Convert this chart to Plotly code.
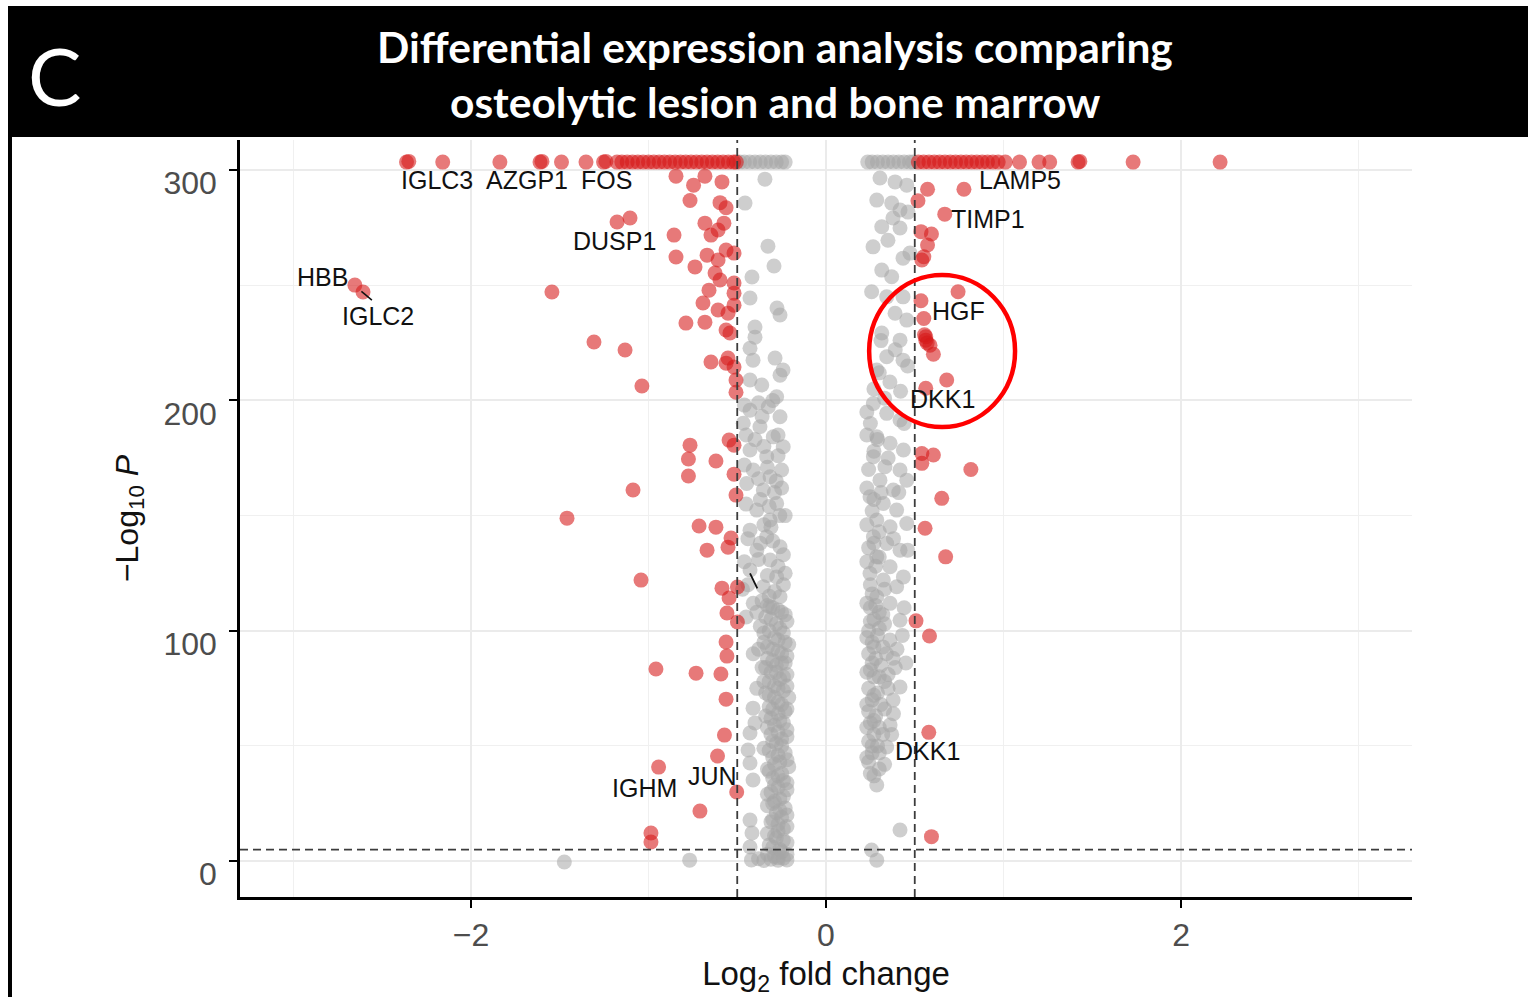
import plotly.graph_objects as go

# ---------------- data (log2 fold change, -log10 P) ----------------
ns_points = [
    # capped at top
    (-0.485, 303.5), (-0.46, 303.5), (-0.43, 303.5), (-0.40, 303.5), (-0.37, 303.5), (-0.34, 303.5),
    (-0.31, 303.5), (-0.28, 303.5), (-0.25, 303.5), (-0.23, 303.5),
    (0.235, 303.5), (0.26, 303.5), (0.29, 303.5), (0.32, 303.5), (0.35, 303.5), (0.38, 303.5),
    (0.41, 303.5), (0.44, 303.5), (0.47, 303.5), (0.49, 303.5),
    # left column, upper part
    (-0.344, 296.1), (-0.456, 285.7), (-0.327, 267.0), (-0.293, 258.4), (-0.417, 253.6), (-0.428, 244.5),
    (-0.276, 240.1), (-0.259, 237.1), (-0.400, 231.9), (-0.400, 227.5), (-0.428, 222.7), (-0.287, 218.4),
    (-0.242, 213.2), (-0.411, 217.5),
    (-0.428, 208.9), (-0.259, 211.0), (-0.362, 206.7), (-0.278, 201.6), (-0.428, 195.8), (-0.325, 197.3),
    (-0.259, 192.9), (-0.466, 190.1), (-0.372, 188.6), (-0.297, 184.2), (-0.241, 179.9), (-0.428, 178.5),
    (-0.334, 175.6), (-0.250, 169.8), (-0.410, 169.8), (-0.315, 166.9), (-0.447, 164.0), (-0.353, 161.1),
    (-0.278, 155.3), (-0.390, 152.4), (-0.315, 148.1), (-0.428, 143.7), (-0.334, 140.8), (-0.259, 136.5),
    (-0.390, 135.0), (-0.315, 130.7), (-0.428, 126.4), (-0.278, 123.4), (-0.353, 119.1), (-0.259, 114.8),
    (-0.410, 111.9), (-0.315, 110.4),
    (-0.30, 200), (-0.36, 193), (-0.27, 185), (-0.40, 183), (-0.33, 171), (-0.29, 160), (-0.37, 157),
    (-0.26, 150), (-0.35, 146), (-0.30, 139), (-0.38, 131), (-0.27, 128), (-0.33, 124), (-0.29, 117),
    (-0.36, 113), (-0.24, 120), (-0.31, 145), (-0.25, 162),
    (-0.46, 198), (-0.38, 199), (-0.45, 185), (-0.35, 180), (-0.27, 176), (-0.46, 172), (-0.38, 166),
    (-0.28, 165), (-0.45, 155), (-0.32, 154), (-0.23, 150), (-0.44, 140), (-0.37, 138), (-0.24, 133),
    (-0.44, 120), (-0.32, 115), (-0.39, 108), (-0.23, 125), (-0.41, 90), (-0.40, 60),
    # left column, dense lower part
    (-0.30, 110), (-0.25, 108), (-0.34, 106), (-0.22, 104), (-0.28, 103), (-0.32, 100), (-0.24, 99),
    (-0.27, 96), (-0.35, 95), (-0.21, 94), (-0.30, 92), (-0.25, 90), (-0.33, 88), (-0.23, 86), (-0.28, 85),
    (-0.31, 82), (-0.22, 81), (-0.26, 79), (-0.35, 78), (-0.29, 76), (-0.24, 74), (-0.32, 72), (-0.21, 71),
    (-0.27, 69), (-0.30, 66), (-0.23, 65), (-0.34, 63), (-0.26, 61), (-0.29, 59), (-0.22, 57), (-0.31, 55),
    (-0.25, 53), (-0.28, 51), (-0.35, 49), (-0.23, 47), (-0.30, 45), (-0.26, 43), (-0.21, 41), (-0.32, 39),
    (-0.27, 37), (-0.24, 35), (-0.29, 33), (-0.22, 31), (-0.33, 29), (-0.26, 27), (-0.30, 25), (-0.23, 23),
    (-0.28, 21), (-0.25, 19), (-0.31, 17), (-0.22, 15), (-0.27, 13), (-0.29, 11), (-0.24, 9), (-0.32, 7),
    (-0.26, 5), (-0.22, 3), (-0.29, 2),
    (-0.33, 111), (-0.27, 109), (-0.23, 107), (-0.31, 105), (-0.26, 101), (-0.35, 99), (-0.29, 97),
    (-0.23, 95), (-0.33, 93), (-0.27, 91), (-0.22, 89), (-0.30, 87), (-0.25, 86), (-0.34, 84), (-0.28, 82),
    (-0.24, 80), (-0.32, 78), (-0.27, 75), (-0.22, 76), (-0.34, 73), (-0.29, 71), (-0.25, 68), (-0.32, 67),
    (-0.22, 66), (-0.27, 64), (-0.31, 62), (-0.24, 60), (-0.33, 58), (-0.27, 56), (-0.22, 54), (-0.30, 52),
    (-0.25, 50), (-0.32, 48), (-0.27, 46), (-0.22, 44), (-0.29, 42), (-0.33, 40), (-0.25, 38), (-0.30, 36),
    (-0.22, 34), (-0.27, 32), (-0.31, 30), (-0.24, 28), (-0.29, 26), (-0.33, 24), (-0.26, 22), (-0.22, 20),
    (-0.30, 18), (-0.27, 16), (-0.24, 14), (-0.33, 12), (-0.28, 10), (-0.22, 8), (-0.30, 6), (-0.25, 4),
    (-0.33, 3), (-0.27, 1.5), (-0.22, 0.5),
    (-0.37, 102), (-0.38, 92), (-0.36, 84), (-0.39, 75), (-0.46, 130), (-0.47, 118), (-0.45, 106),
    (-0.411, 66.4), (-0.428, 55.6), (-0.439, 48.2), (-0.428, 42.6), (-0.411, 35.2), (-0.428, 17.8),
    (-0.417, 12.2), (-0.428, 6.1),
    (-0.42, 0.5), (-0.38, 1.0), (-0.35, 0.3), (-0.31, 0.8), (-0.27, 0.4), (-0.24, 1.2),
    (-1.474, -0.4), (-0.768, 0.4),
    # right column, upper part
    (0.304, 296.6), (0.389, 294.9), (0.455, 293.5), (0.286, 287.0), (0.370, 285.7), (0.417, 282.7),
    (0.462, 281.8), (0.314, 275.4), (0.377, 279.2), (0.417, 274.9), (0.265, 266.7), (0.349, 269.6),
    (0.434, 261.8), (0.473, 264.0), (0.314, 256.6), (0.370, 253.7), (0.257, 247.2), (0.342, 245.0),
    (0.434, 245.0), (0.389, 237.9), (0.455, 234.9), (0.314, 229.3), (0.417, 226.2), (0.342, 219.0),
    (0.434, 217.5), (0.286, 213.2),
    (0.30, 212), (0.36, 208), (0.42, 204), (0.27, 205), (0.33, 201), (0.46, 215), (0.39, 222), (0.31, 226),
    # right column, middle part
    (0.267, 198.7), (0.342, 194.4), (0.417, 191.5), (0.286, 184.2), (0.361, 181.4), (0.436, 178.5),
    (0.267, 175.6), (0.332, 171.2), (0.417, 169.8), (0.304, 165.4), (0.379, 161.1), (0.455, 165.4),
    (0.248, 158.2), (0.323, 155.3), (0.398, 152.4), (0.286, 148.1), (0.361, 145.2), (0.455, 146.6),
    (0.267, 140.8), (0.342, 137.9), (0.417, 135.0), (0.286, 132.1), (0.361, 127.8), (0.248, 124.9),
    (0.323, 122.0), (0.398, 119.1), (0.286, 114.8), (0.361, 111.9), (0.436, 123.4),
    (0.25, 190), (0.29, 183), (0.24, 170), (0.31, 160), (0.26, 152), (0.30, 143), (0.24, 136), (0.28, 128),
    (0.33, 118), (0.25, 120),
    (0.23, 185), (0.27, 178), (0.23, 162), (0.27, 157), (0.23, 146), (0.27, 138), (0.23, 130), (0.30, 132),
    (0.26, 116), (0.38, 140), (0.41, 160), (0.35, 175), (0.44, 190), (0.46, 135), (0.23, 195),
    # right column, lower part
    (0.25, 110), (0.30, 108), (0.27, 105), (0.33, 103), (0.24, 100), (0.29, 98), (0.26, 95), (0.32, 93),
    (0.24, 90), (0.28, 88), (0.31, 85), (0.25, 83), (0.27, 80), (0.33, 78), (0.24, 75), (0.29, 73),
    (0.26, 70), (0.31, 68), (0.24, 65), (0.28, 63), (0.25, 60), (0.30, 58), (0.27, 55), (0.24, 52),
    (0.29, 50), (0.26, 47), (0.23, 45),
    (0.23, 112), (0.28, 111), (0.32, 107), (0.25, 104), (0.30, 101), (0.23, 97), (0.27, 93), (0.34, 90),
    (0.26, 86), (0.23, 82), (0.30, 80), (0.35, 75), (0.27, 72), (0.23, 68), (0.33, 66), (0.27, 61),
    (0.23, 58), (0.32, 55), (0.26, 50), (0.30, 47), (0.24, 43), (0.33, 42), (0.25, 38), (0.38, 64),
    (0.37, 55), (0.39, 84), (0.43, 98), (0.45, 86),
    (0.417, 104.6), (0.378, 88.1), (0.417, 75.6), (0.378, 69.9), (0.361, 59.1), (0.342, 49.5),
    (0.286, 33.0), (0.417, 13.5), (0.257, 4.8), (0.286, 0.4),
    (0.36, 96), (0.40, 92), (0.35, 81), (0.44, 110), (0.30, 40), (0.27, 37),
]

down_points = [
    # capped at top
    (-2.363, 303.5), (-2.35, 303.8), (-2.159, 303.5), (-1.837, 303.5), (-1.611, 303.5), (-1.60, 303.8),
    (-1.490, 303.5), (-1.352, 303.5), (-1.253, 303.5), (-1.24, 303.8),
    (-1.177, 303.5), (-1.15, 303.5), (-1.12, 303.5), (-1.09, 303.5), (-1.06, 303.5), (-1.03, 303.5),
    (-1.00, 303.5), (-0.97, 303.5), (-0.94, 303.5), (-0.91, 303.5), (-0.88, 303.5), (-0.85, 303.5),
    (-0.82, 303.5), (-0.79, 303.5), (-0.76, 303.5), (-0.73, 303.5), (-0.70, 303.5), (-0.67, 303.5),
    (-0.64, 303.5), (-0.61, 303.5), (-0.58, 303.5), (-0.55, 303.5), (-0.52, 303.5), (-0.505, 303.5),
    # below the cap
    (-0.845, 297.4), (-0.746, 293.5), (-0.682, 297.4), (-0.586, 294.9), (-0.766, 286.8), (-0.597, 285.9),
    (-0.563, 283.7), (-1.177, 277.5), (-1.104, 279.2), (-0.856, 271.8), (-0.682, 277.0), (-0.575, 277.0),
    (-0.608, 274.0), (-0.648, 271.8), (-0.845, 262.3), (-0.738, 258.0), (-0.670, 263.1), (-0.608, 261.0),
    (-0.563, 265.3), (-0.518, 264.0), (-0.625, 255.3), (-0.597, 252.3), (-0.518, 251.0), (-0.659, 247.9),
    (-0.518, 246.6), (-2.654, 250.1), (-2.608, 247.1), (-1.544, 247.1), (-0.693, 242.3), (-0.608, 239.3),
    (-0.518, 241.4), (-0.552, 237.9), (-0.789, 233.6), (-0.682, 234.0), (-0.563, 230.6), (-0.541, 229.3),
    (-1.307, 225.4), (-1.132, 221.9), (-1.037, 206.3), (-0.648, 216.7), (-0.552, 218.4), (-0.518, 214.5),
    (-0.563, 216.2), (-0.507, 208.9), (-0.507, 203.6), (-0.766, 180.6), (-0.775, 174.6), (-0.775, 167.2),
    (-0.620, 173.7), (-0.546, 182.8), (-0.518, 180.6), (-0.518, 168.0), (-0.507, 158.9), (-1.087, 161.1),
    (-1.459, 148.9), (-0.715, 145.5), (-0.620, 145.0), (-0.535, 140.3), (-0.670, 135.0), (-0.552, 136.3),
    (-1.042, 122.0), (-0.586, 118.5), (-0.499, 119.0), (-0.546, 114.2), (-0.558, 107.7), (-0.499, 103.8),
    (-0.563, 95.1), (-0.558, 89.0), (-0.958, 83.4), (-0.732, 81.6), (-0.592, 81.2), (-0.563, 70.3),
    (-0.572, 54.7), (-0.611, 45.6), (-0.943, 40.8), (-0.503, 30.0), (-0.710, 21.7), (-0.986, 12.2),
    (-0.986, 8.3),
]

up_points = [
    # capped at top
    (0.52, 303.5), (0.55, 303.5), (0.58, 303.5), (0.61, 303.5), (0.64, 303.5), (0.67, 303.5), (0.70, 303.5),
    (0.73, 303.5), (0.76, 303.5), (0.79, 303.5), (0.82, 303.5), (0.85, 303.5), (0.88, 303.5), (0.91, 303.5),
    (0.94, 303.5), (0.97, 303.5), (1.01, 303.5), (1.09, 303.5), (1.20, 303.5), (1.26, 303.5), (1.42, 303.5),
    (1.43, 303.8), (1.73, 303.5), (2.22, 303.5),
    # below the cap
    (0.572, 291.7), (0.777, 291.7), (0.518, 286.7), (0.669, 280.9), (0.535, 273.3), (0.594, 272.3),
    (0.572, 267.5), (0.551, 262.4), (0.540, 261.0), (0.744, 247.2), (0.535, 243.3), (0.551, 235.6),
    (0.562, 227.7), (0.555, 228.5), (0.562, 226.2), (0.570, 225.0), (0.586, 224.0), (0.605, 220.1),
    (0.680, 208.9), (0.562, 205.3), (0.540, 177.0), (0.605, 176.3), (0.540, 172.7), (0.816, 170.0),
    (0.652, 157.5), (0.558, 144.5), (0.674, 132.1), (0.507, 104.3), (0.583, 97.7), (0.579, 55.9),
    (0.594, 10.6),
]

label_genes = ["IGLC3", "AZGP1", "FOS", "DUSP1", "HBB", "IGLC2", "LAMP5", "TIMP1", "HGF", "DKK1", "DKK1", "IGHM", "JUN"]
label_x = [-2.19, -1.685, -1.234, -1.189, -2.839, -2.524, 1.093, 0.913, 0.744, 0.659, 0.569, -1.025, -0.642]
label_y = [295.7, 295.7, 295.7, 269.2, 253.6, 236.6, 295.7, 278.8, 238.8, 200.6, 47.8, 31.7, 36.9]

fc_cutoff = [-0.5, 0.5]
p_cutoff = 5

x_ticks = [-2, 0, 2]
x_ticktext = ["\u22122", "0", "2"]
x_minor = [-3, -1, 1, 3]
y_ticks = [0, 100, 200, 300]
y_minor = [50, 150, 250]

title_lines = ["Differential expression analysis comparing", "osteolytic lesion and bone marrow"]
panel_letter = "C"

# ---------------- figure ----------------
fig = go.Figure()

def add_points(points, color, name):
    fig.add_trace(go.Scatter(
        x=[p[0] for p in points], y=[p[1] for p in points], mode="markers", name=name,
        marker=dict(size=15, color=color, line=dict(width=0)), showlegend=False, hoverinfo="skip"))

add_points(ns_points, "rgba(165,165,165,0.55)", "NS")
add_points(down_points, "rgba(214,24,24,0.58)", "Down")
add_points(up_points, "rgba(214,24,24,0.58)", "Up")

for g, lx, ly in zip(label_genes, label_x, label_y):
    fig.add_annotation(x=lx, y=ly, text=g, showarrow=False, xanchor="center", yanchor="middle",
                       font=dict(family="Liberation Sans", size=25, color="#111111"))

dash_line = dict(color="#3c3c3c", width=1.8, dash="8px,5px")
for c in fc_cutoff:
    fig.add_shape(type="line", xref="x", yref="paper", x0=c, x1=c, y0=0, y1=1, line=dash_line, layer="above")
fig.add_shape(type="line", xref="paper", yref="y", x0=0, x1=1, y0=p_cutoff, y1=p_cutoff, line=dash_line, layer="above")

# label leader segments
fig.add_shape(type="line", xref="x", yref="y", x0=-2.617, y0=247.4, x1=-2.558, y1=243.6,
              line=dict(color="#111111", width=1.5))
fig.add_shape(type="line", xref="x", yref="y", x0=-0.428, y0=124.9, x1=-0.387, y1=118.4,
              line=dict(color="#111111", width=1.8))

# highlight circle
fig.add_shape(type="circle", xref="x", yref="y", x0=0.243, x1=1.065, y0=188.5, y1=254.5,
              line=dict(color="#ff0000", width=4.5), layer="above")

# header band and frame
fig.add_shape(type="rect", xref="paper", yref="paper", x0=-0.19795, x1=1.12, y0=1.004, y1=1.177,
              fillcolor="black", line=dict(width=0), layer="above")
fig.add_shape(type="rect", xref="paper", yref="paper", x0=-0.19795, x1=-0.19454, y0=-0.2, y1=1.004,
              fillcolor="black", line=dict(width=0), layer="above")

fig.add_annotation(xref="paper", yref="paper", x=-0.1587, y=1.0859, text=panel_letter, showarrow=False,
                   xanchor="center", yanchor="middle", font=dict(family="Lato", size=80, color="white"))
fig.add_annotation(xref="paper", yref="paper", x=0.4565, y=1.1229, text="<b>" + title_lines[0] + "</b>",
                   showarrow=False, xanchor="center", yanchor="middle",
                   font=dict(family="Lato", size=42.5, color="white"))
fig.add_annotation(xref="paper", yref="paper", x=0.4565, y=1.0502, text="<b>" + title_lines[1] + "</b>",
                   showarrow=False, xanchor="center", yanchor="middle",
                   font=dict(family="Lato", size=42.5, color="white"))

axis_common = dict(
    showline=True, linecolor="black", linewidth=2.5, ticks="outside", ticklen=8, tickwidth=2,
    tickcolor="black", zeroline=False, showgrid=True, gridcolor="#ebebeb", gridwidth=1.8,
    tickfont=dict(family="Liberation Sans", size=32, color="#4d4d4d"), automargin=False,
)

fig.update_xaxes(
    range=[-3.301, 3.301], tickmode="array", tickvals=x_ticks, ticktext=x_ticktext,
    minor=dict(tickmode="array", tickvals=x_minor, showgrid=True, gridcolor="#f0f0f0", gridwidth=1.2, ticklen=0),
    title=dict(text="Log<sub>2</sub> fold change", standoff=12,
               font=dict(family="Liberation Sans", size=33, color="#111111")),
    **axis_common)
fig.update_yaxes(
    range=[-15.6, 313.1], tickmode="array", tickvals=y_ticks,
    minor=dict(tickmode="array", tickvals=y_minor, showgrid=True, gridcolor="#f0f0f0", gridwidth=1.2, ticklen=0),
    ticklabelshift=13, ticklabelstandoff=6,
    title=dict(text="\u2212Log<sub>10</sub> <i>P</i>", standoff=16,
               font=dict(family="Liberation Sans", size=32, color="#111111")),
    **axis_common)

fig.update_layout(
    width=1528, height=997, margin=dict(l=240, r=116, t=140, b=100),
    paper_bgcolor="white", plot_bgcolor="white", showlegend=False,
    font=dict(family="Liberation Sans"),
)

fig.write_html("out.html")
